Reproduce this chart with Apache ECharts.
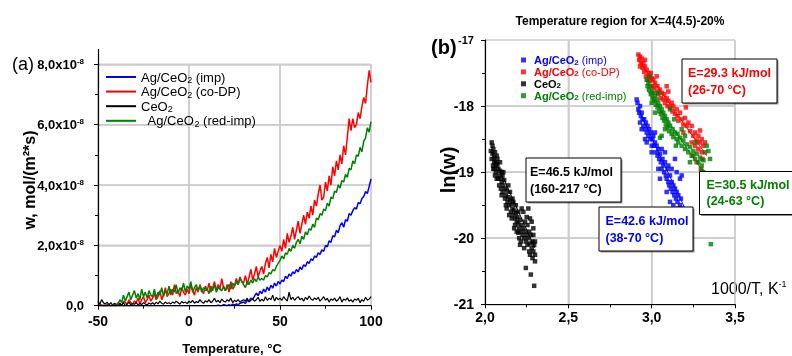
<!DOCTYPE html>
<html><head><meta charset="utf-8">
<script src="https://cdn.jsdelivr.net/npm/echarts@6/dist/echarts.min.js"></script>
<style>html,body{margin:0;padding:0;background:#fff}#bg,#c{position:absolute;left:0;top:0;width:792px;height:356px}#bg{z-index:0}#c{z-index:1}</style>
</head><body><div id="bg"></div><div id="c"></div>
<script>
// ---------- Panel (a): w (x1e-8 mol/(m2*s)) vs temperature, 1 °C steps from -50 ----------
const tempStart = -50, tempStep = 1;
const wImp = [
0,0,0,0,0,0,0,0,0,0,
0,0,0,0,0,0,0,0,0,0,
0,0,0,0,0,0,0,0,0,0,
0,0,0,0,0,0,0,0,0,0,
0,0,0,0,0,0,0,0,0,0,
0,0,0,0,0,0,0,0,0,0,
0,0,0,0,0,0,0.02,0,0,0.03,
0.02,0,0.03,0,0.05,0.02,0.06,0.03,0.08,0.1,
0.12,0.08,0.18,0.15,0.25,0.2,0.32,0.42,0.33,0.48,
0.4,0.55,0.45,0.62,0.5,0.68,0.58,0.75,0.65,0.8,
0.72,0.85,0.8,0.98,0.9,1.05,0.98,1.12,1.06,1.2,
1.12,1.28,1.2,1.36,1.3,1.46,1.4,1.55,1.5,1.65,
1.6,1.75,1.7,1.85,1.8,2.0,1.95,2.15,2.1,2.32,
2.28,2.5,2.42,2.65,2.75,2.6,2.85,2.8,3.05,3.0,
3.15,3.25,3.2,3.42,3.38,3.55,3.62,3.78,3.72,3.95,
4.2];
const wCoDP = [
0,0.05,0,0.02,0,0,0.03,0,0,0.04,
0,0.1,0.05,0,0.15,0.1,0.05,0.2,0.1,0.05,
0.15,0.1,0.25,0.05,0.2,0.3,0.1,0.2,0.35,0.15,
0.25,0.4,0.2,0.3,0.5,0.2,0.35,0.6,0.3,0.4,
0.55,0.35,0.7,0.4,0.5,0.3,0.6,0.45,0.35,0.55,
0.4,0.7,0.5,0.35,0.6,0.45,0.7,0.5,0.4,0.65,
0.5,0.75,0.45,0.6,0.8,0.5,0.7,0.55,0.9,0.6,
0.5,0.7,0.45,0.8,0.55,0.65,0.9,0.7,0.95,0.8,
0.75,1.0,0.7,0.95,1.2,0.85,1.05,1.3,0.95,1.15,
1.3,1.05,1.4,1.6,1.25,1.7,1.45,1.9,1.6,1.8,
2.0,1.8,2.2,1.9,2.4,2.1,2.3,2.6,2.2,2.5,
2.8,2.4,2.7,3.0,2.7,3.1,2.9,3.3,3.0,3.5,
3.3,3.7,4.0,3.5,3.6,4.1,3.8,4.3,4.0,4.6,
4.3,4.8,4.5,5.0,4.7,5.3,5.0,5.6,6.2,5.8,
6.2,5.9,6.0,6.4,6.2,6.6,6.9,6.7,7.3,7.8,
7.4];
const wCeO2 = [
0.15,0.05,0.2,0.1,0.05,0.12,0.03,0.1,0.02,0.08,
0.05,0,0.08,0.02,0.1,0,0.05,0.12,0.03,0.07,
0.05,0.1,0.02,0.08,0.04,0.1,0.06,0.02,0.09,0.05,
0.1,0.04,0.12,0.06,0.15,0.08,0.05,0.12,0.07,0.1,
0.06,0.12,0.08,0.15,0.1,0.05,0.14,0.09,0.12,0.07,
0.15,0.1,0.18,0.08,0.14,0.1,0.2,0.12,0.08,0.16,
0.12,0.2,0.1,0.15,0.25,0.12,0.18,0.1,0.22,0.15,
0.12,0.2,0.15,0.25,0.1,0.18,0.14,0.2,0.12,0.16,
0.2,0.15,0.25,0.12,0.18,0.22,0.15,0.2,0.28,0.14,
0.22,0.15,0.3,0.18,0.25,0.2,0.35,0.15,0.28,0.2,
0.25,0.18,0.3,0.22,0.15,0.45,0.2,0.28,0.18,0.25,
0.3,0.2,0.25,0.15,0.28,0.2,0.32,0.22,0.18,0.26,
0.2,0.28,0.15,0.22,0.3,0.18,0.25,0.12,0.22,0.18,
0.25,0.15,0.2,0.3,0.12,0.22,0.18,0.26,0.15,0.2,
0.12,0.22,0.18,0.25,0.1,0.2,0.15,0.28,0.18,0.22,
0.3];
const wRedImp = [
0,0,0.02,0,0,0.03,0,0,0.02,0,
0,0.05,0.2,0.1,0.35,0.15,0.3,0.45,0.2,0.35,
0.5,0.25,0.4,0.2,0.55,0.3,0.45,0.25,0.5,0.35,
0.3,0.55,0.25,0.45,0.35,0.6,0.3,0.5,0.4,0.65,
0.35,0.55,0.45,0.7,0.4,0.6,0.5,0.75,0.45,0.65,
0.55,0.8,0.45,0.6,0.7,0.5,0.65,0.45,0.6,0.5,
0.55,0.4,0.65,0.5,0.7,0.45,0.6,0.55,0.5,0.65,
0.5,0.6,0.7,0.55,0.75,0.65,0.8,0.7,0.9,0.8,
0.7,0.6,0.8,0.7,0.85,0.75,0.9,0.8,0.95,0.85,
0.9,0.85,1.0,0.95,1.1,1.05,1.2,1.15,1.3,1.4,
1.5,1.65,1.55,1.75,1.7,1.9,1.8,2.0,1.9,2.1,
2.2,2.05,2.3,2.2,2.45,2.35,2.55,2.5,2.7,2.6,
2.9,2.85,3.05,3.0,3.2,3.15,3.4,3.3,3.6,3.55,
3.8,3.75,4.0,3.9,4.15,4.1,4.35,4.25,4.55,4.5,
4.8,4.7,5.0,4.95,5.25,5.1,5.45,5.55,5.9,5.75,
6.1];
const tickA_x = [-50, 0, 50, 100];
const tickA_y = [0, 2, 4, 6, 8];
const gridA_x = [0, 50, 100];
const gridA_y = [2, 4, 6, 8];

// ---------- Panel (b): ln(w) vs 1000/T ----------
const lnImp = [[2.91,-17.9],[2.915,-17.95],[2.92,-18.05],[2.925,-18.1],[2.93,-18.0],[2.935,-18.15],[2.94,-18.1],[2.945,-18.2],[2.93,-18.25],[2.95,-18.3],[2.955,-18.2],[2.96,-18.35],[2.965,-18.25],[2.97,-18.4],[2.975,-18.3],[2.98,-18.45],[2.985,-18.35],[2.99,-18.5],[2.97,-18.55],[2.995,-18.4],[3.0,-18.6],[3.005,-18.5],[3.01,-18.45],[3.015,-18.6],[3.02,-18.55],[3.0,-18.7],[3.025,-18.7],[3.03,-18.6],[3.035,-18.75],[3.04,-18.65],[3.045,-18.8],[3.05,-18.72],[3.055,-18.85],[3.06,-18.95],[3.065,-18.8],[3.07,-18.9],[3.075,-19.0],[3.08,-18.85],[3.085,-19.05],[3.09,-19.1],[3.095,-18.95],[3.1,-19.15],[3.105,-19.2],[3.11,-19.05],[3.115,-19.25],[3.12,-19.15],[3.125,-19.3],[3.13,-19.2],[3.135,-19.35],[3.14,-19.25],[3.145,-19.4],[3.15,-19.3],[3.155,-19.45],[3.16,-19.35],[3.17,-19.5],[3.175,-19.4],[3.18,-19.55],[3.19,-19.6],[3.12,-18.95],[3.15,-19.0],[3.17,-19.1],[3.18,-19.05],[3.14,-18.8],[3.1,-18.9],[3.08,-18.7],[3.06,-18.65],[2.96,-18.5],[2.94,-18.35],[3.02,-18.4],[3.04,-18.95],[3.09,-19.3],[3.11,-19.45],[3.13,-19.5],[3.16,-19.55],[3.2,-19.65],[3.05,-19.1]];
const lnCoDP = [[2.92,-17.22],[2.925,-17.3],[2.93,-17.25],[2.935,-17.35],[2.94,-17.28],[2.93,-17.4],[2.945,-17.42],[2.95,-17.35],[2.955,-17.48],[2.96,-17.4],[2.965,-17.55],[2.97,-17.45],[2.975,-17.6],[2.98,-17.5],[2.985,-17.55],[2.99,-17.62],[2.995,-17.5],[3.0,-17.58],[3.005,-17.7],[3.01,-17.6],[3.015,-17.72],[3.02,-17.65],[3.03,-17.78],[3.035,-17.7],[3.04,-17.82],[3.05,-17.75],[3.055,-17.88],[3.06,-17.8],[3.07,-17.9],[3.075,-17.82],[3.08,-17.95],[3.09,-17.88],[3.095,-18.0],[3.1,-17.92],[3.11,-18.02],[3.12,-17.95],[3.125,-18.08],[3.13,-18.0],[3.14,-18.12],[3.15,-18.05],[3.155,-18.15],[3.16,-18.22],[3.17,-18.1],[3.18,-18.2],[3.19,-18.28],[3.2,-18.18],[3.21,-18.3],[3.22,-18.25],[3.23,-18.38],[3.24,-18.3],[3.25,-18.45],[3.26,-18.4],[3.27,-18.52],[3.28,-18.45],[3.29,-18.55],[3.3,-18.5],[3.31,-18.6],[3.32,-18.55],[3.3,-18.7],[3.28,-18.65],[3.26,-18.6],[3.25,-18.75],[3.305,-18.8],[3.29,-18.37],[3.24,-18.55],[3.09,-17.7],[3.1,-17.78],[3.03,-17.55],[2.96,-17.3],[3.205,-18.02],[3.19,-18.4],[3.27,-18.85],[3.295,-18.95]];
const lnCeO2 = [[2.04,-18.55],[2.035,-18.68],[2.045,-18.72],[2.05,-18.65],[2.055,-18.78],[2.06,-18.7],[2.065,-18.85],[2.07,-18.75],[2.04,-18.8],[2.048,-18.9],[2.058,-18.95],[2.065,-19.0],[2.075,-18.88],[2.08,-18.95],[2.085,-19.05],[2.07,-19.1],[2.06,-19.05],[2.09,-18.98],[2.095,-19.1],[2.1,-19.0],[2.1,-19.15],[2.105,-19.05],[2.11,-19.2],[2.085,-19.2],[2.095,-19.25],[2.105,-19.3],[2.115,-19.12],[2.12,-19.25],[2.125,-19.35],[2.13,-19.28],[2.12,-19.4],[2.135,-19.45],[2.14,-19.38],[2.145,-19.5],[2.15,-19.42],[2.13,-19.55],[2.155,-19.6],[2.16,-19.48],[2.165,-19.55],[2.17,-19.65],[2.16,-19.7],[2.175,-19.58],[2.18,-19.7],[2.185,-19.62],[2.19,-19.75],[2.18,-19.8],[2.195,-19.68],[2.2,-19.78],[2.205,-19.85],[2.21,-19.72],[2.2,-19.92],[2.215,-19.9],[2.22,-19.8],[2.225,-19.95],[2.23,-19.85],[2.215,-20.05],[2.235,-20.0],[2.24,-19.9],[2.245,-20.05],[2.25,-19.95],[2.255,-20.1],[2.26,-20.0],[2.265,-19.9],[2.27,-20.08],[2.275,-19.95],[2.28,-20.15],[2.285,-20.05],[2.29,-20.2],[2.295,-20.1],[2.3,-20.25],[2.27,-20.25],[2.285,-20.3],[2.3,-20.35],[2.22,-19.55],[2.23,-19.6],[2.26,-19.55],[2.27,-19.7],[2.28,-19.75],[2.25,-19.68],[2.24,-19.75],[2.29,-19.85],[2.245,-20.45],[2.275,-20.55],[2.295,-20.72],[2.19,-19.9],[2.205,-20.0],[2.165,-19.4],[2.15,-19.3],[2.14,-19.2],[2.11,-19.0],[2.09,-18.85],[2.075,-18.8],[2.2,-19.6],[2.185,-19.5],[2.17,-19.45],[2.055,-18.85],[2.065,-18.9],[2.045,-18.6],[2.05,-18.95],[2.08,-19.1],[2.1,-19.35],[2.125,-19.5],[2.145,-19.65],[2.175,-19.85],[2.21,-20.1],[2.235,-20.15],[2.255,-19.8],[2.265,-20.2],[2.3,-20.05],[2.29,-19.95]];
const lnRedImp = [[2.97,-17.6],[2.975,-17.7],[2.98,-17.65],[2.985,-17.75],[2.99,-17.7],[2.995,-17.82],[3.0,-17.78],[3.005,-17.88],[3.01,-17.8],[3.015,-17.92],[3.02,-17.85],[3.025,-17.98],[3.03,-17.9],[3.035,-18.02],[3.04,-17.95],[3.045,-18.08],[3.05,-18.0],[3.055,-18.12],[3.06,-18.05],[3.065,-18.18],[3.07,-18.1],[3.075,-18.22],[3.08,-18.15],[3.085,-18.28],[3.09,-18.2],[3.095,-18.32],[3.1,-18.25],[3.105,-18.38],[3.11,-18.3],[3.12,-18.42],[3.125,-18.35],[3.13,-18.47],[3.14,-18.4],[3.15,-18.5],[3.155,-18.42],[3.16,-18.55],[3.17,-18.48],[3.18,-18.6],[3.19,-18.52],[3.2,-18.65],[3.21,-18.58],[3.22,-18.7],[3.23,-18.62],[3.24,-18.75],[3.25,-18.68],[3.26,-18.8],[3.27,-18.72],[3.28,-18.85],[3.29,-18.78],[3.3,-18.9],[3.31,-18.82],[3.32,-18.7],[3.33,-18.6],[3.34,-18.68],[3.35,-18.8],[3.31,-19.0],[3.3,-18.98],[3.2,-18.45],[3.18,-18.35],[3.06,-18.45],[3.05,-18.48],[3.11,-18.05],[3.0,-17.95],[2.99,-17.55],[3.02,-18.1],[3.08,-18.35],[3.145,-18.6],[3.23,-18.85],[3.265,-18.55],[3.355,-20.09],[3.135,-18.2],[3.04,-17.8]];
const fitImp = [[2.92,-18.05],[3.2,-19.55]];
const fitCoDP = [[2.92,-17.3],[3.33,-18.75]];
const fitCeO2 = [[2.04,-18.7],[2.3,-20.15]];
const fitRedImp = [[2.97,-17.75],[3.31,-19.0]];
const gridB_x = [2.5, 3.0, 3.5];
const gridB_y = [-20, -19, -18];

const FF = '"Liberation Sans", Arial, Helvetica, sans-serif';
const COL = {B:'#0000ff', R:'#ff0000', K:'#000000', G:'#008000'};
const GRIDC = '#cccccc';

function pairs(arr){ const out=[]; for(let i=0;i<arr.length;i++) out.push([tempStart+i*tempStep, arr[i]]); return out; }
const comma = v => v.toFixed(1).replace('.', ',');

const GRIDS = [
  {left:98, right:421, top:64.3, bottom:50.3},
  {left:485, right:57, top:40, bottom:51.7}
];
const AX = {
  x0:{min:-50, max:100, interval:50},
  x1:{min:2, max:3.5, interval:0.5},
  y0:{min:0, max:8, interval:2},
  y1:{min:-21, max:-17, interval:1}
};

// ---------- background instance: grid lines only ----------
const bg = echarts.init(document.getElementById('bg'));
function bgAxis(gi, r){
  return {type:'value', gridIndex:gi, min:r.min, max:r.max, interval:r.interval,
    axisLine:{show:false, onZero:false}, axisTick:{show:false}, axisLabel:{show:false},
    splitLine:{show:true, lineStyle:{color:GRIDC, width:1.5}}};
}
bg.setOption({
  animation:false,
  grid:GRIDS,
  xAxis:[bgAxis(0, AX.x0), bgAxis(1, AX.x1)],
  yAxis:[bgAxis(0, AX.y0), bgAxis(1, AX.y1)],
  series:[
    {type:'line', xAxisIndex:0, yAxisIndex:0, data:pairs(wCoDP), showSymbol:false, silent:true, lineStyle:{opacity:0}},
    {type:'scatter', xAxisIndex:1, yAxisIndex:1, data:lnCeO2, silent:true, symbolSize:1, itemStyle:{opacity:0}}
  ]
});

// ---------- main instance ----------
const labA = {
  a_imp: '{n|Ag/CeO}{s|2}{n| (imp)}',
  a_codp: '{n|Ag/CeO}{s|2}{n| (co-DP)}',
  a_ceo2: '{n|CeO}{s|2}',
  a_red: '{n|  Ag/CeO}{s|2}{n| (red-imp)}'
};
const labB = {
  b_imp: '{bB|Ag/CeO}{sB|2}{nB| (imp)}',
  b_codp: '{bR|Ag/CeO}{sR|2}{nR| (co-DP)}',
  b_ceo2: '{bK|CeO}{sK|2}',
  b_red: '{bG|Ag/CeO}{sG|2}{nG| (red-imp)}'
};
const richB = {};
for (const k in COL) {
  richB['b'+k] = {fontFamily:FF, fontSize:11, fontWeight:'bold', color:COL[k], lineHeight:12};
  richB['n'+k] = {fontFamily:FF, fontSize:11, color:COL[k], lineHeight:12};
  richB['s'+k] = {fontFamily:FF, fontSize:8, fontWeight:'bold', color:COL[k], lineHeight:8, verticalAlign:'bottom'};
}

function box(x, y, w, h, color, l1, l2, tx, ty) {
  return { type:'group', z:100, children:[
    {type:'rect', z:100, shape:{x:x+1.5, y:y+1.5, width:w, height:h}, style:{fill:'rgba(0,0,0,0.45)'}},
    {type:'rect', z:101, shape:{x:x, y:y, width:w, height:h}, style:{fill:'#fff', stroke:'#000', lineWidth:1}},
    {type:'text', z:102, x:tx, y:ty, style:{text:l1 + '\n' + l2, fill:color, font:'bold 12.5px ' + FF, lineHeight:16.5, textVerticalAlign:'top'}}
  ]};
}

// grid lines as plain two-point line series (through the axes' scales)
function gridSeries(gi, xs, ys, r) {
  const out = [];
  xs.forEach(v => out.push({type:'line', xAxisIndex:gi, yAxisIndex:gi, data:[[v, r.y.min], [v, r.y.max]]}));
  ys.forEach(v => out.push({type:'line', xAxisIndex:gi, yAxisIndex:gi, data:[[r.x.min, v], [r.x.max, v]]}));
  out.forEach(s => Object.assign(s, {showSymbol:false, silent:true, clip:false, z:1, color:GRIDC,
    lineStyle:{color:GRIDC, width:1.5, type:'solid'}, emphasis:{disabled:true}}));
  return out;
}

const chart = echarts.init(document.getElementById('c'), null, {renderer:'svg'});

function axLine(){ return {show:true, onZero:false, lineStyle:{color:'#000', width:1.2}}; }
function tick(){ return {show:true, length:4, lineStyle:{color:'#000'}}; }
function minor(){ return {show:true, splitNumber:2, length:3, lineStyle:{color:'#000'}}; }

const option = {
  animation:false,
  backgroundColor:'transparent',
  grid:GRIDS,
  xAxis:[
    {type:'value', gridIndex:0, min:AX.x0.min, max:AX.x0.max, interval:AX.x0.interval, z:5,
     axisLine:axLine(), axisTick:tick(), minorTick:minor(), splitLine:{show:false},
     axisLabel:{margin:8, color:'#000', fontFamily:FF, fontSize:14, fontWeight:'bold',
       formatter: v => tickA_x.includes(v) ? String(v) : ''}},
    {type:'value', gridIndex:1, min:AX.x1.min, max:AX.x1.max, interval:AX.x1.interval, z:5,
     axisLine:axLine(), axisTick:tick(), minorTick:minor(), splitLine:{show:false},
     axisLabel:{margin:6, color:'#000', fontFamily:FF, fontSize:14, fontWeight:'bold',
       formatter: v => comma(v)}}
  ],
  yAxis:[
    {type:'value', gridIndex:0, min:AX.y0.min, max:AX.y0.max, interval:AX.y0.interval, z:5,
     axisLine:axLine(), axisTick:tick(), minorTick:minor(), splitLine:{show:false},
     axisLabel:{margin:14, color:'#000',
       formatter: v => !tickA_y.includes(v) ? '' : (v === 0 ? '{m|0,0}' : '{m|' + comma(v) + 'x10}{p|-8}'),
       rich:{ m:{fontFamily:FF, fontSize:13, fontWeight:'bold', color:'#000', lineHeight:14},
              p:{fontFamily:FF, fontSize:8, fontWeight:'bold', color:'#000', lineHeight:8, verticalAlign:'top'} }}},
    {type:'value', gridIndex:1, min:AX.y1.min, max:AX.y1.max, interval:AX.y1.interval, z:5,
     axisLine:axLine(), axisTick:tick(), minorTick:minor(), splitLine:{show:false},
     axisLabel:{margin:11, color:'#000',
       formatter: v => v === -17 ? '{s|-17}' : '{b|' + v + '}',
       rich:{ b:{fontFamily:FF, fontSize:14, fontWeight:'bold', color:'#000'},
              s:{fontFamily:FF, fontSize:11, fontWeight:'bold', color:'#000'} }}}
  ],
  legend:[
    {left:101, top:65.5, orient:'vertical', icon:'rect', itemWidth:30, itemHeight:2, itemGap:0.6,
     data:['a_imp','a_codp','a_ceo2','a_red'],
     formatter: n => labA[n],
     textStyle:{ rich:{ n:{fontFamily:FF, fontSize:13, color:'#000', lineHeight:15},
                       s:{fontFamily:FF, fontSize:9, color:'#000', lineHeight:10, verticalAlign:'bottom'} } }},
    {left:516, top:49.5, orient:'vertical', icon:'rect', itemWidth:5, itemHeight:5, itemGap:0.4,
     data:['b_imp','b_codp','b_ceo2','b_red'],
     formatter: n => labB[n],
     textStyle:{ padding:[0,0,0,3], rich: richB }}
  ],
  graphic:[
    {type:'line', z:50, shape:{x1:98.5, y1:49, x2:98.5, y2:64.3}, style:{stroke:'#000', lineWidth:1.2}},
    {type:'text', x:12, y:64, style:{text:'(a)', font:'18px ' + FF, fill:'#000', textVerticalAlign:'middle'}},
    {type:'text', x:29, y:180, rotation:Math.PI/2, style:{text:'w, mol/(m²*s)', font:'bold 16px ' + FF, fill:'#000', textAlign:'center', textVerticalAlign:'middle'}},
    {type:'text', x:232, y:348, style:{text:'Temperature, °C', font:'bold 13px ' + FF, fill:'#000', textAlign:'center', textVerticalAlign:'middle'}},
    {type:'text', x:620, y:21, style:{text:'Temperature region for X=4(4.5)-20%', font:'bold 12px ' + FF, fill:'#000', textAlign:'center', textVerticalAlign:'middle'}},
    {type:'text', x:431, y:47, style:{text:'(b)', font:'bold 20px ' + FF, fill:'#000', textVerticalAlign:'middle'}},
    {type:'text', x:447.5, y:170, rotation:Math.PI/2, style:{text:'ln(w)', font:'bold 20px ' + FF, fill:'#000', textAlign:'center', textVerticalAlign:'middle'}},
    {type:'text', x:711, y:279, style:{text:'{m|1000/T, K}{p|-1}', fill:'#000',
       rich:{m:{font:'16px ' + FF, fill:'#000', lineHeight:18}, p:{font:'9px ' + FF, fill:'#000', lineHeight:9, verticalAlign:'top'}}}},
    box(526, 158, 95, 44, '#000', 'E=46.5 kJ/mol', '(160-217 °C)', 530, 164),
    box(682, 59, 95, 44, COL.R, 'E=29.3 kJ/mol', '(26-70 °C)', 688, 65),
    box(599, 207, 94, 44, COL.B, 'E=42.6 kJ/mol', '(38-70 °C)', 605.5, 213),
    box(699.5, 171.5, 95, 43, COL.G, 'E=30.5 kJ/mol', '(24-63 °C)', 706.5, 176.5)
  ],
  series: []
    .concat(gridSeries(0, gridA_x, gridA_y, {x:AX.x0, y:AX.y0}))
    .concat(gridSeries(1, gridB_x, gridB_y, {x:AX.x1, y:AX.y1}))
    .concat([
    {name:'a_imp', type:'line', xAxisIndex:0, yAxisIndex:0, data:pairs(wImp), showSymbol:false, color:COL.B, lineStyle:{width:1.5}},
    {name:'a_codp', type:'line', xAxisIndex:0, yAxisIndex:0, data:pairs(wCoDP), showSymbol:false, color:COL.R, lineStyle:{width:1.5}},
    {name:'a_ceo2', type:'line', xAxisIndex:0, yAxisIndex:0, data:pairs(wCeO2), showSymbol:false, color:COL.K, lineStyle:{width:1.2}},
    {name:'a_red', type:'line', xAxisIndex:0, yAxisIndex:0, data:pairs(wRedImp), showSymbol:false, color:COL.G, lineStyle:{width:1.5}},
    {name:'b_imp', type:'scatter', xAxisIndex:1, yAxisIndex:1, data:lnImp, symbol:'rect', symbolSize:4.5, color:COL.B},
    {name:'b_codp', type:'scatter', xAxisIndex:1, yAxisIndex:1, data:lnCoDP, symbol:'rect', symbolSize:4.5, color:COL.R},
    {name:'b_ceo2', type:'scatter', xAxisIndex:1, yAxisIndex:1, data:lnCeO2, symbol:'rect', symbolSize:4.5, color:COL.K},
    {name:'b_red', type:'scatter', xAxisIndex:1, yAxisIndex:1, data:lnRedImp, symbol:'rect', symbolSize:4.5, color:COL.G},
    {name:'fit_imp', type:'line', xAxisIndex:1, yAxisIndex:1, data:fitImp, showSymbol:false, color:COL.B, lineStyle:{width:1}, z:3},
    {name:'fit_codp', type:'line', xAxisIndex:1, yAxisIndex:1, data:fitCoDP, showSymbol:false, color:COL.R, lineStyle:{width:1}, z:3},
    {name:'fit_ceo2', type:'line', xAxisIndex:1, yAxisIndex:1, data:fitCeO2, showSymbol:false, color:COL.K, lineStyle:{width:1}, z:3},
    {name:'fit_red', type:'line', xAxisIndex:1, yAxisIndex:1, data:fitRedImp, showSymbol:false, color:COL.G, lineStyle:{width:1}, z:3}
  ])
};
chart.setOption(option);
</script>
</body></html>
